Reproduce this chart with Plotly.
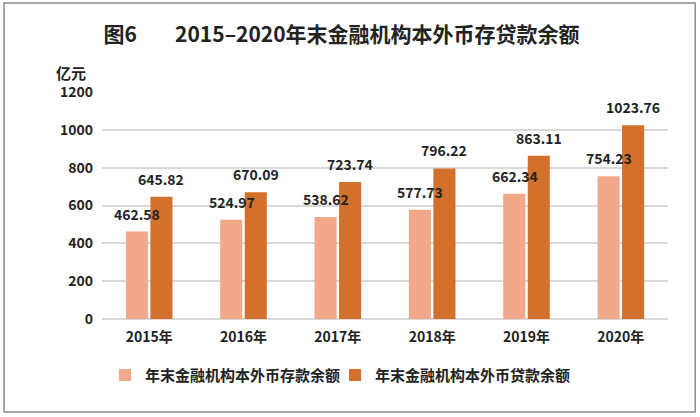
import plotly.graph_objects as go

# Data
years = ["2015年", "2016年", "2017年", "2018年", "2019年", "2020年"]
deposits = [462.58, 524.97, 538.62, 577.73, 662.34, 754.23]
loans = [645.82, 670.09, 723.74, 796.22, 863.11, 1023.76]
y_ticks = [0, 200, 400, 600, 800, 1000, 1200]

deposit_name = "年末金融机构本外币存款余额"
loan_name = "年末金融机构本外币贷款余额"

font_family = "Noto Sans CJK SC, Noto Sans, sans-serif"
light_color = "#F2A88A"
dark_color = "#D2702C"
text_color = "#222222"
label_font = dict(family=font_family, size=14, color=text_color, weight="bold")

fig = go.Figure()

for name, values, color, lw in [(deposit_name, deposits, light_color, 185),
                                (loan_name, loans, dark_color, 215)]:
    fig.add_trace(go.Bar(
        x=years,
        y=values,
        name=name,
        legendwidth=lw,
        marker=dict(color=color, line=dict(width=0)),
        cliponaxis=False,
    ))

# value labels as annotations so they sit on top of the neighbouring bar
labels = []
for values, shift in [(deposits, -12), (loans, 12)]:
    for year, v in zip(years, values):
        labels.append(dict(
            x=year, y=v, xref="x", yref="y",
            text=f"{v:.2f}",
            showarrow=False,
            xanchor="center", yanchor="bottom",
            xshift=shift, yshift=6,
            font=label_font,
        ))

labels.append(dict(
    text="亿元",
    xref="paper",
    yref="paper",
    x=-0.055,
    y=1.088,
    xanchor="center",
    yanchor="middle",
    showarrow=False,
    font=dict(family=font_family, size=15, color=text_color, weight="bold"),
))

fig.update_layout(
    width=700,
    height=417,
    margin=dict(l=102, r=32, t=92, b=98, autoexpand=False),
    paper_bgcolor="white",
    plot_bgcolor="white",
    barmode="group",
    bargap=0.48,
    bargroupgap=0.1,
    font=dict(family=font_family, color=text_color),
    title=dict(
        text="图6" + "\u00a0" * 8 + "2015–2020年末金融机构本外币存贷款余额",
        x=0.488,
        xanchor="center",
        y=0.916,
        yanchor="middle",
        font=dict(family=font_family, size=21, color=text_color, weight="bold"),
    ),
    xaxis=dict(
        showgrid=False,
        showline=False,
        ticks="",
        ticklabelstandoff=8,
        tickfont=dict(family=font_family, size=14, color=text_color, weight="bold"),
    ),
    yaxis=dict(
        range=[0, 1200],
        tickvals=y_ticks,
        showgrid=True,
        gridcolor="#D9D9D9",
        gridwidth=1.5,
        zeroline=True,
        zerolinecolor="#D9D9D9",
        zerolinewidth=1.5,
        showline=False,
        ticks="",
        ticklabelstandoff=8,
        tickfont=dict(family=font_family, size=14, color=text_color, weight="bold"),
    ),
    legend=dict(
        orientation="h",
        xref="container",
        yref="container",
        x=0.5,
        xanchor="center",
        y=0.10,
        yanchor="middle",
        itemwidth=30,
        entrywidthmode="pixels",
        font=dict(family=font_family, size=15, color=text_color, weight="bold"),
    ),
    annotations=labels,
    shapes=[
        dict(
            type="rect",
            xref="paper",
            yref="paper",
            x0=-0.173,
            x1=1.048,
            y0=-0.41,
            y1=1.392,
            line=dict(color="#8C8C8C", width=1.5),
            layer="below",
        )
    ],
)

fig.write_html(
    "out.html",
    config={"displayModeBar": False},
    post_script="document.body.style.margin='0';",
)
